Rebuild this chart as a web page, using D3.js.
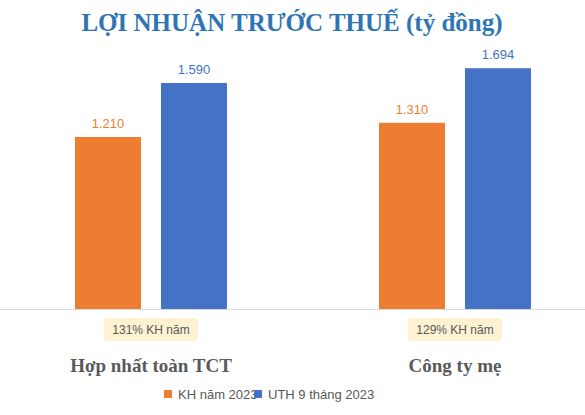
<!DOCTYPE html>
<html><head><meta charset="utf-8"><script src="https://cdn.jsdelivr.net/npm/d3@7"></script>
<style>body{margin:0;background:#fff}</style></head><body>
<svg id="c" width="585" height="415"></svg>
<script>
const categories = ["Hợp nhất toàn TCT", "Công ty mẹ"];
const seriesNames = ["KH năm 2023", "UTH 9 tháng 2023"];
const khValues = [1210, 1310];
const uthValues = [1590, 1694];
const valueLabels = [["1.210","1.590"],["1.310","1.694"]];
const pctLabels = ["131% KH năm", "129% KH năm"];
const colors = ["#ed7d31", "#4472c4"];

const svg = d3.select("#c");
const baseY = 309;
const y = d3.scaleLinear().domain([0, 1590]).range([baseY, 83]);
const x0 = d3.scaleBand().domain(categories).range([-1, 607]);
const x1 = d3.scaleBand().domain([0,1]).range([0, 152]).paddingInner(0.232).paddingOuter(0);
const off = (x0.bandwidth() - 152) / 2;

svg.append("text").attr("x", 292).attr("y", 31).attr("text-anchor","middle")
  .attr("font-family","Liberation Serif, serif").attr("font-weight","bold").attr("font-size",25)
  .attr("fill","#2e75b6").text("LỢI NHUẬN TRƯỚC THUẾ (tỷ đồng)");

svg.append("line").attr("x1",0).attr("x2",585).attr("y1",baseY+0.5).attr("y2",baseY+0.5)
  .attr("stroke","#d9d9d9").attr("stroke-width",1);

categories.forEach((c, i) => {
  const vals = [khValues[i], uthValues[i]];
  vals.forEach((v, j) => {
    const bx = x0(c) + off + x1(j);
    svg.append("rect").attr("x", bx).attr("y", y(v)).attr("width", x1.bandwidth())
      .attr("height", baseY - y(v)).attr("fill", colors[j]);
    svg.append("text").attr("x", bx + x1.bandwidth()/2).attr("y", y(v) - 9)
      .attr("text-anchor","middle").attr("font-family","Liberation Sans, Arial, sans-serif")
      .attr("font-size",13).attr("fill", colors[j]).text(valueLabels[i][j]);
  });
  const cx = x0(c) + x0.bandwidth()/2;
  svg.append("rect").attr("x", cx-47).attr("y", 318).attr("width", 94).attr("height", 23)
    .attr("rx",3).attr("fill","#fdf3d3");
  svg.append("text").attr("x", cx).attr("y", 334).attr("text-anchor","middle")
    .attr("font-family","Liberation Sans, Arial, sans-serif").attr("font-size",12)
    .attr("fill","#595959").text(pctLabels[i]);
  svg.append("text").attr("x", cx).attr("y", 372).attr("text-anchor","middle")
    .attr("font-family","Liberation Serif, serif").attr("font-weight","bold").attr("font-size",19)
    .attr("fill","#595959").text(c);
});

const lx = [164, 254];
seriesNames.forEach((s, j) => {
  svg.append("rect").attr("x", lx[j]).attr("y", 390).attr("width", 8).attr("height", 8).attr("fill", colors[j]);
  svg.append("text").attr("x", lx[j] + 14).attr("y", 399)
    .attr("font-family","Liberation Sans, Arial, sans-serif").attr("font-size",13)
    .attr("fill","#595959").text(s);
});
</script></body></html>
